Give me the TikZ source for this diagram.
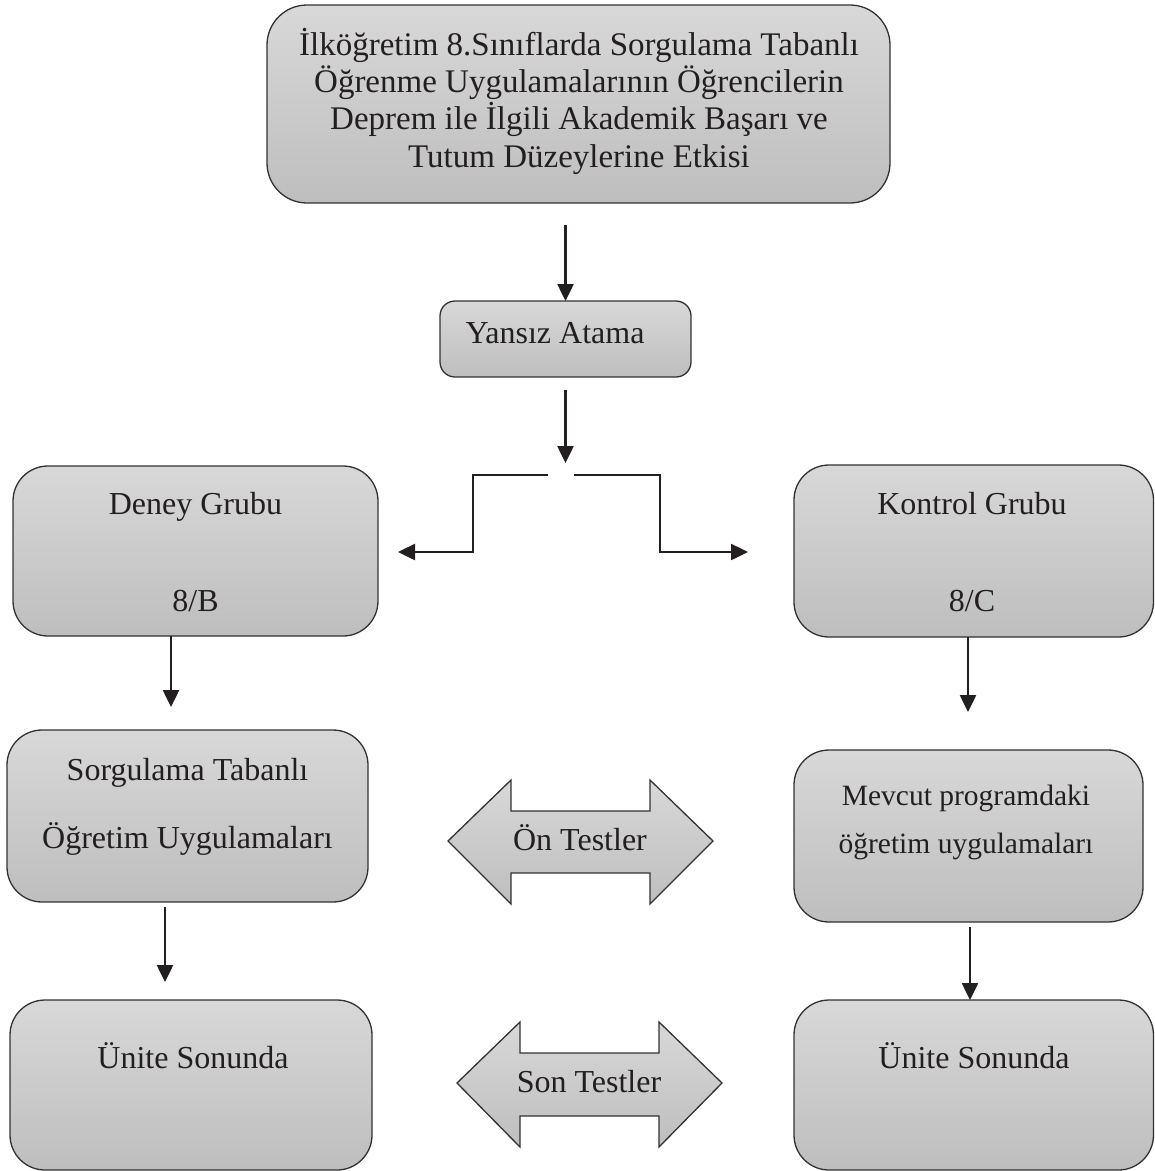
\documentclass[tikz,border=0pt]{standalone}
\usepackage{fontspec}
\setmainfont{Liberation Serif}
\usetikzlibrary{arrows.meta,calc}
\definecolor{boxtop}{RGB}{216,216,216}
\definecolor{boxbot}{RGB}{190,190,190}
\definecolor{edge}{RGB}{50,50,50}
\definecolor{ink}{RGB}{35,31,32}
\begin{document}
\begin{tikzpicture}[x=1pt,y=-1pt,
  gbox/.style={draw=edge, line width=1.3pt, top color=boxtop, bottom color=boxbot,
    rounded corners=#1, inner sep=0pt, outer sep=0pt, rectangle},
  gbox/.default=35pt,
  dbl/.style={draw=edge, line width=1.3pt, top color=boxtop, bottom color=boxbot, line join=miter},
  lbl/.style={text=ink, font=\fontsize{32}{38}\selectfont, anchor=base, inner sep=0pt},
  conn/.style={draw=ink, line width=2.5pt, -{Triangle[length=17pt,width=16pt]}},
  ]
\useasboundingbox (0,0) rectangle (1155,1171);

% boxes
\node[gbox=40pt, minimum width=623pt, minimum height=198pt] (top) at (578.5,104) {};
\node[gbox=15pt, minimum width=251pt, minimum height=76pt] (yansiz) at (565.5,339) {};
\node[gbox, minimum width=365pt, minimum height=170pt] (deney) at (195.5,551) {};
\node[gbox, minimum width=359.5pt, minimum height=172pt] (kontrol) at (973.75,551) {};
\node[gbox, minimum width=361pt, minimum height=172pt] (sorg) at (187.5,816) {};
\node[gbox, minimum width=349pt, minimum height=172pt] (mevcut) at (968.5,836) {};
\node[gbox, minimum width=362pt, minimum height=170pt] (uniteL) at (191,1085) {};
\node[gbox, minimum width=359.5pt, minimum height=170pt] (uniteR) at (973.75,1085) {};

% double arrows
\draw[dbl] (448,841) -- (511,780) -- (511,811) -- (650,811) -- (650,780) -- (713,841)
  -- (650,904) -- (650,873) -- (511,873) -- (511,904) -- cycle;
\draw[dbl] (457,1083) -- (520,1022) -- (520,1053) -- (659,1053) -- (659,1022) -- (722,1083)
  -- (659,1147) -- (659,1116) -- (520,1116) -- (520,1147) -- cycle;

% texts
\node[lbl, font=\fontsize{33}{37.3}\selectfont, align=center] (toptext) at (579,167)
  {İlköğretim 8.Sınıflarda Sorgulama Tabanlı\\Öğrenme Uygulamalarının Öğrencilerin\\Deprem ile İlgili Akademik Başarı ve\\Tutum Düzeylerine Etkisi};
\node[lbl] (tyansiz) at (555,343) {Yansız Atama};
\node[lbl] (tdeney1) at (195.5,514) {Deney Grubu};
\node[lbl] (tdeney2) at (195.5,611) {8/B};
\node[lbl] (tkontrol1) at (972,514) {Kontrol Grubu};
\node[lbl] (tkontrol2) at (972,611) {8/C};
\node[lbl] (tsorg1) at (187.5,780) {Sorgulama Tabanlı};
\node[lbl] (tsorg2) at (187.5,848) {Öğretim Uygulamaları};
\node[lbl, font=\fontsize{29.5}{35}\selectfont] (tmev1) at (966,805) {Mevcut programdaki};
\node[lbl, font=\fontsize{29.5}{35}\selectfont] (tmev2) at (966,853) {öğretim uygulamaları};
\node[lbl] (ton) at (580,850) {Ön Testler};
\node[lbl] (tson) at (589,1092) {Son Testler};
\node[lbl] (tuniteL) at (193,1068) {Ünite Sonunda};
\node[lbl] (tuniteR) at (974,1068) {Ünite Sonunda};

% connectors
\coordinate (splitin) at (565.5,463);
\coordinate (split) at (561,475);
\coordinate (lb) at (473,475);
\coordinate (rb) at (660,475);
\coordinate (dtip) at (398,552);
\coordinate (ktip) at (748,552);
\draw[conn, shorten <=22pt] (top.south -| yansiz.north) -- (yansiz.north);
\draw[conn, shorten <=13pt] (yansiz.south) -- (splitin);
\draw[conn, line join=miter] ([xshift=-13pt]split) -- (lb) |- (dtip);
\draw[conn, line join=miter] ([xshift=13pt]split) -- (rb) |- (ktip);
\draw[conn, shorten >=23pt] ([xshift=-24.5pt]deney.south) -- ([xshift=-16.5pt]sorg.north);
\draw[conn, shorten >=38pt] ([xshift=-5.75pt]kontrol.south) -- ([xshift=-0.5pt]mevcut.north);
\draw[conn, shorten <=5pt, shorten >=18pt] ([xshift=-22.5pt]sorg.south) -- ([xshift=-26pt]uniteL.north);
\draw[conn, shorten <=5pt] ([xshift=1.5pt]mevcut.south) -- ([xshift=-3.75pt]uniteR.north);
\end{tikzpicture}
\end{document}
